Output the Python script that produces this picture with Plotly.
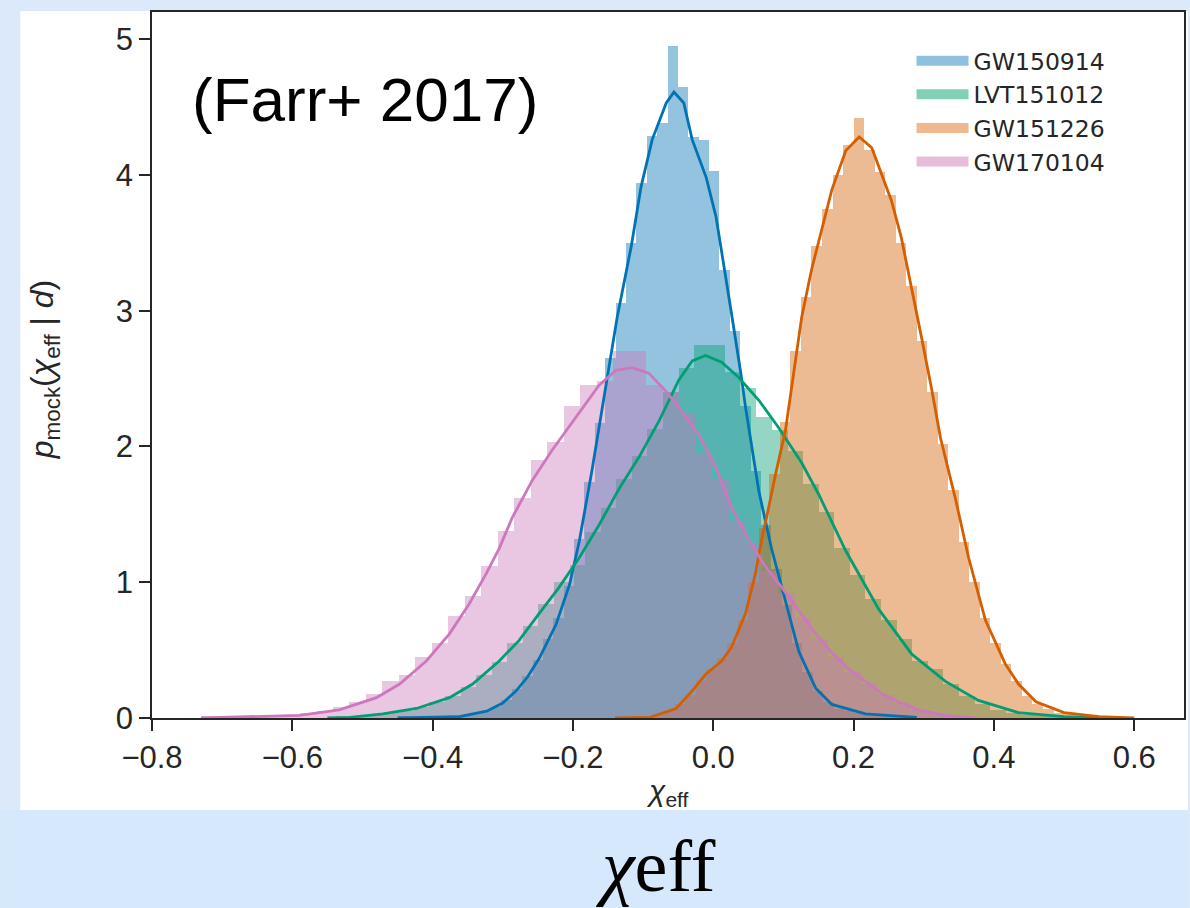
import plotly.graph_objects as go

# ---------------- data ----------------
events = ["GW150914", "LVT151012", "GW151226", "GW170104"]
line_colors = ["#0173b2", "#029e73", "#d55e00", "#cc78bc"]
patch_colors = ["#8ec1dd", "#80cfb6", "#f0b88e", "#e8bdd9"]

# histogram bins: start of first bin, bin width
gw150914_bins = [-0.45, 0.0148]
gw150914_hist = [0.01, 0.00, 0.01, 0.01, 0.01, 0.02, 0.02, 0.03, 0.05, 0.08,
                 0.13, 0.21, 0.31, 0.43, 0.58, 0.74, 0.97, 1.32, 1.74, 2.17,
                 2.65, 3.06, 3.50, 3.94, 4.29, 4.38, 4.95, 4.65, 4.28, 4.26,
                 4.03, 3.30, 2.85, 2.30, 1.82, 1.42, 1.10, 0.83, 0.55, 0.34,
                 0.20, 0.12, 0.07, 0.05, 0.04, 0.02, 0.01, 0.01, 0.01, 0.01]

lvt151012_bins = [-0.56, 0.0222]
lvt151012_hist = [0.00, 0.01, 0.01, 0.02, 0.04, 0.05, 0.08, 0.12, 0.16, 0.23,
                  0.32, 0.41, 0.55, 0.68, 0.84, 1.00, 1.13, 1.37, 1.55, 1.76,
                  1.93, 2.13, 2.40, 2.58, 2.75, 2.75, 2.55, 2.43, 2.22, 2.12,
                  1.97, 1.72, 1.52, 1.25, 1.05, 0.88, 0.72, 0.58, 0.42, 0.36,
                  0.25, 0.16, 0.10, 0.06, 0.04, 0.02, 0.01, 0.01, 0.00, 0.00]

gw151226_bins = [-0.145, 0.015]
gw151226_hist = [0.00, 0.00, 0.01, 0.01, 0.02, 0.05, 0.10, 0.17, 0.27, 0.36,
                 0.44, 0.55, 0.72, 1.00, 1.40, 1.80, 2.18, 2.70, 3.10, 3.48,
                 3.75, 4.00, 4.22, 4.42, 4.18, 4.02, 3.85, 3.50, 3.18, 2.78,
                 2.40, 2.02, 1.68, 1.30, 1.00, 0.74, 0.55, 0.40, 0.27, 0.16,
                 0.10, 0.07, 0.04, 0.03, 0.02, 0.01, 0.01, 0.00, 0.00, 0.00]

gw170104_bins = [-0.73, 0.0235]
gw170104_hist = [0.01, 0.01, 0.01, 0.01, 0.02, 0.02, 0.04, 0.05, 0.08, 0.12,
                 0.18, 0.27, 0.32, 0.45, 0.55, 0.75, 0.90, 1.12, 1.38, 1.62,
                 1.90, 2.03, 2.30, 2.45, 2.48, 2.70, 2.70, 2.45, 2.40, 2.25,
                 1.95, 1.75, 1.45, 1.28, 1.08, 0.92, 0.74, 0.58, 0.45, 0.34,
                 0.25, 0.17, 0.11, 0.06, 0.03, 0.02, 0.01]

# KDE curves
gw150914_kde_x = [-0.45, -0.40, -0.362, -0.323, -0.300, -0.281, -0.265, -0.248, -0.224, -0.205,
                  -0.191, -0.173, -0.156, -0.144, -0.137, -0.117, -0.103, -0.087, -0.067, -0.056,
                  -0.042, -0.030, -0.010, 0.004, 0.015, 0.026, 0.039, 0.046, 0.065, 0.083,
                  0.103, 0.122, 0.146, 0.169, 0.217, 0.274, 0.29]
gw150914_kde_y = [0.0, 0.005, 0.01, 0.05, 0.11, 0.20, 0.30, 0.44, 0.69, 0.98,
                  1.30, 1.82, 2.35, 2.72, 2.95, 3.47, 3.91, 4.26, 4.53, 4.61,
                  4.53, 4.26, 3.98, 3.69, 3.35, 2.98, 2.55, 2.29, 1.67, 1.25,
                  0.86, 0.49, 0.22, 0.10, 0.03, 0.01, 0.005]

lvt151012_kde_x = [-0.55, -0.518, -0.471, -0.423, -0.376, -0.343, -0.305, -0.277, -0.248, -0.220,
                   -0.191, -0.163, -0.134, -0.106, -0.077, -0.049, -0.030, -0.011, 0.012, 0.036,
                   0.065, 0.093, 0.126, 0.150, 0.189, 0.236, 0.283, 0.331, 0.378, 0.435,
                   0.50, 0.55]
lvt151012_kde_y = [0.0, 0.005, 0.03, 0.07, 0.15, 0.25, 0.42, 0.57, 0.77, 0.96,
                   1.18, 1.42, 1.69, 1.92, 2.19, 2.49, 2.63, 2.67, 2.62, 2.51,
                   2.34, 2.14, 1.88, 1.65, 1.23, 0.80, 0.47, 0.27, 0.13, 0.04,
                   0.01, 0.0]

gw151226_kde_x = [-0.14, -0.09, -0.053, -0.030, -0.011, 0.012, 0.026, 0.046, 0.060, 0.069,
                  0.079, 0.089, 0.103, 0.112, 0.126, 0.140, 0.154, 0.169, 0.189, 0.208,
                  0.226, 0.240, 0.254, 0.268, 0.283, 0.297, 0.311, 0.324, 0.345, 0.364,
                  0.388, 0.416, 0.435, 0.46, 0.50, 0.55, 0.60]
gw151226_kde_y = [0.0, 0.005, 0.07, 0.20, 0.32, 0.42, 0.52, 0.77, 1.06, 1.31,
                  1.55, 1.80, 2.12, 2.46, 2.95, 3.30, 3.59, 3.89, 4.18, 4.28,
                  4.20, 4.01, 3.81, 3.54, 3.17, 2.80, 2.43, 2.06, 1.62, 1.18,
                  0.72, 0.40, 0.25, 0.12, 0.04, 0.01, 0.0]

gw170104_kde_x = [-0.73, -0.65, -0.59, -0.533, -0.48, -0.447, -0.409, -0.376, -0.348, -0.324,
                  -0.305, -0.287, -0.258, -0.230, -0.196, -0.163, -0.139, -0.116, -0.092, -0.068,
                  -0.045, -0.021, 0.004, 0.026, 0.051, 0.075, 0.098, 0.122, 0.146, 0.169,
                  0.193, 0.217, 0.240, 0.264, 0.292, 0.331, 0.37]
gw170104_kde_y = [0.0, 0.01, 0.02, 0.06, 0.15, 0.25, 0.42, 0.62, 0.84, 1.06,
                  1.25, 1.47, 1.75, 1.97, 2.21, 2.45, 2.56, 2.58, 2.54, 2.41,
                  2.26, 2.09, 1.84, 1.55, 1.31, 1.11, 0.96, 0.79, 0.62, 0.48,
                  0.36, 0.27, 0.18, 0.12, 0.06, 0.02, 0.0]

x_ticks = [-0.8, -0.6, -0.4, -0.2, 0.0, 0.2, 0.4, 0.6]
y_ticks = [0, 1, 2, 3, 4, 5]
x_range = [-0.8, 0.671]
y_range = [0, 5.2]

hists = [(gw150914_bins, gw150914_hist), (lvt151012_bins, lvt151012_hist),
         (gw151226_bins, gw151226_hist), (gw170104_bins, gw170104_hist)]
kdes = [(gw150914_kde_x, gw150914_kde_y), (lvt151012_kde_x, lvt151012_kde_y),
        (gw151226_kde_x, gw151226_kde_y), (gw170104_kde_x, gw170104_kde_y)]

# ---------------- figure ----------------
W, H = 1190, 908
ML, MR, MT, MB = 152, 4, 12, 190
PW, PH = W - ML - MR, H - MT - MB


def px(x):
    return (x - ML) / PW


def py(y):
    return (H - MB - y) / PH


fig = go.Figure()
FONT = "Liberation Sans, Arial, sans-serif"

for (bins, h), col in zip(hists, line_colors):
    start, w = bins
    centers = [start + (i + 0.5) * w for i in range(len(h))]
    fig.add_trace(go.Bar(x=centers, y=h, width=w, marker=dict(color=col, line=dict(width=0)),
                         opacity=0.42, showlegend=False, hoverinfo="skip"))

for (kx, ky), col in zip(kdes, line_colors):
    fig.add_trace(go.Scatter(x=kx, y=ky, mode="lines", line=dict(color=col, width=2.8),
                             showlegend=False, hoverinfo="skip"))

# legend proxies (patch-like entries)
for name, pc in zip(events, patch_colors):
    fig.add_trace(go.Scatter(x=[None], y=[None], mode="lines", name=name,
                             line=dict(color=pc, width=18)))

axis_common = dict(showline=True, linecolor="#262626", linewidth=1.5, mirror=True,
                   ticks="outside", ticklen=11, tickwidth=1.5, tickcolor="#262626",
                   showgrid=False, zeroline=False,
                   tickfont=dict(family=FONT, size=31, color="#262626"))

fig.update_layout(
    width=W, height=H,
    margin=dict(l=ML, r=MR, t=MT, b=MB),
    paper_bgcolor="#dce9fb",
    plot_bgcolor="white",
    barmode="overlay", bargap=0,
    xaxis=dict(range=x_range, tickvals=x_ticks, tickformat=".1f", **axis_common),
    yaxis=dict(range=y_range, tickvals=y_ticks, **axis_common),
    legend=dict(x=px(913), y=py(39), xanchor="left", yanchor="top",
                bgcolor="rgba(0,0,0,0)",
                font=dict(family="DejaVu Sans, sans-serif", size=23.5, color="#262626"),
                itemwidth=52, tracegroupgap=0),
    shapes=[
        dict(type="rect", xref="paper", yref="paper", x0=px(20), x1=px(1190),
             y0=py(810), y1=py(11), fillcolor="white", line=dict(width=0), layer="below"),
        dict(type="rect", xref="paper", yref="paper", x0=px(0), x1=px(1190),
             y0=py(908), y1=py(810), fillcolor="#d6e8fc", line=dict(width=0), layer="below"),
    ],
    annotations=[
        dict(text="(Farr+ 2017)", xref="paper", yref="paper", x=px(190), y=py(100),
             xanchor="left", yanchor="middle", showarrow=False,
             font=dict(family=FONT, size=62, color="black")),
        dict(text="<i>p</i><sub>mock</sub>(<i>χ</i><sub>eff</sub> | <i>d</i>)",
             xref="paper", yref="paper", x=px(45), y=py(370), textangle=-90,
             xanchor="center", yanchor="middle", showarrow=False,
             font=dict(family=FONT, size=32, color="#262626")),
        dict(text="<i>χ</i><sub>eff</sub>", xref="paper", yref="paper", x=px(668), y=py(792),
             xanchor="center", yanchor="middle", showarrow=False,
             font=dict(family=FONT, size=30, color="#262626")),
        dict(text="<i>χ</i>eff", xref="paper", yref="paper", x=px(657), y=py(866),
             xanchor="center", yanchor="middle", showarrow=False,
             font=dict(family="Liberation Serif, DejaVu Serif, serif", size=74, color="black")),
    ],
)

fig.write_html("out.html", config={"displayModeBar": False},
               post_script="document.body.style.margin='0px';")
